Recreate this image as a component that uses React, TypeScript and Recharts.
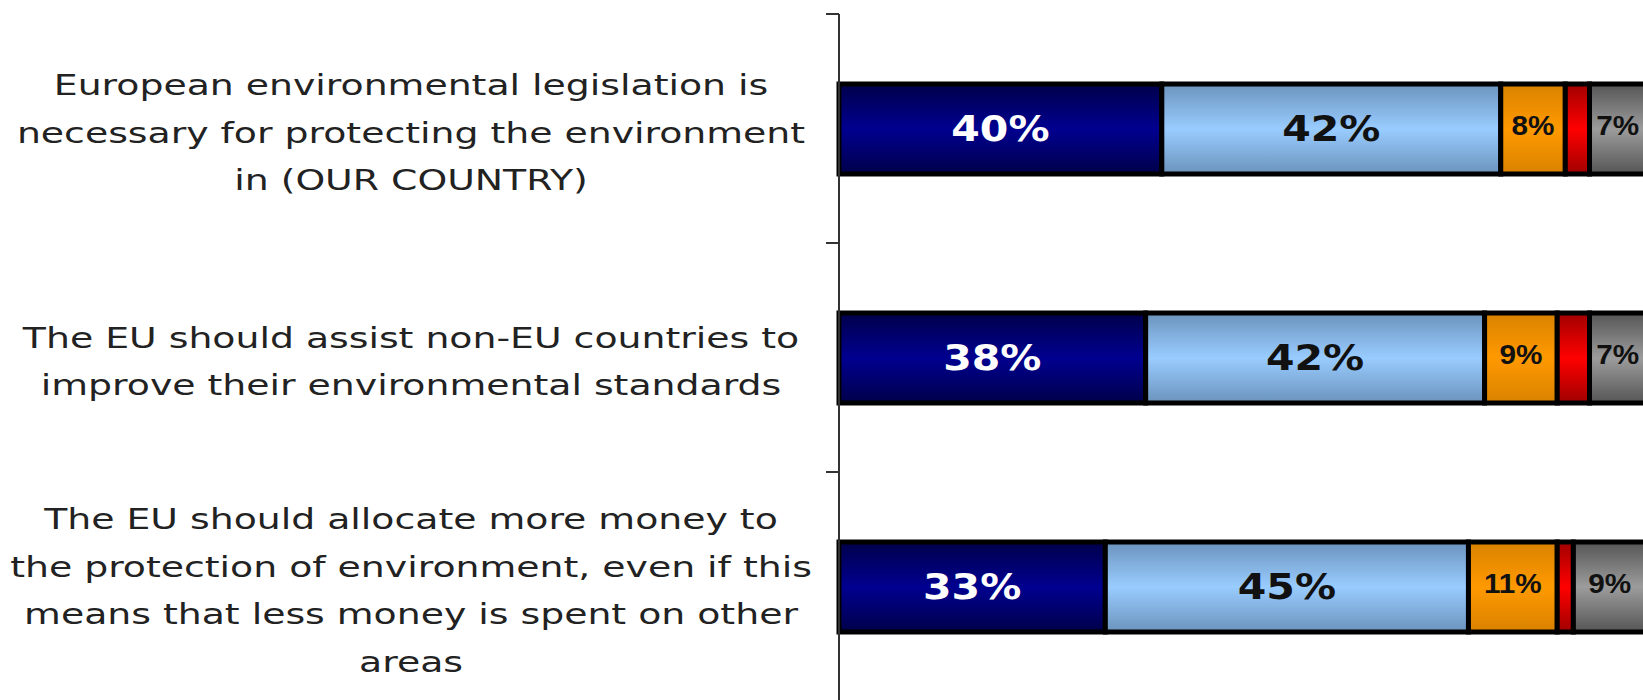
import React from 'react'
import { BarChart, Bar, XAxis, YAxis, LabelList } from 'recharts'

// statements (category keys) and their wrapped lines as printed on the chart
const statements = ['legislation', 'assist', 'allocate']
const statementLines = [
  ['European environmental legislation is', 'necessary for protecting the environment', 'in (OUR COUNTRY)'],
  ['The EU should assist non-EU countries to', 'improve their environmental standards'],
  [
    'The EU should allocate more money to',
    'the protection of environment, even if this',
    'means that less money is spent on other',
    'areas',
  ],
]

// answer shares in %
const totallyAgree = [40, 38, 33]
const tendAgree = [42, 42, 45]
const tendDisagree = [8, 9, 11]
const totallyDisagree = [3, 4, 2]
const dontKnow = [7, 7, 9]

const chartData = statements.map((name, i) => ({
  name,
  totallyAgree: totallyAgree[i],
  tendAgree: tendAgree[i],
  tendDisagree: tendDisagree[i],
  totallyDisagree: totallyDisagree[i],
  dontKnow: dontKnow[i],
}))

// category label plus the tick marks on the band edges (the axis puts ticks at band centres)
function StatementTick({ x, y, payload }: any) {
  const idx = statements.indexOf(payload.value)
  const lines = statementLines[idx] || []
  const half = Number(payload.offset) || 0
  const lineGap = 47.7
  const first = 14 - ((lines.length - 1) / 2) * lineGap
  return (
    <g>
      <line x1={x - 13} x2={x} y1={y - half} y2={y - half} stroke="#333" strokeWidth={2} />
      {idx === statements.length - 1 && (
        <line x1={x - 13} x2={x} y1={y + half} y2={y + half} stroke="#333" strokeWidth={2} />
      )}
      <g transform={`translate(${x - 428},${y}) scale(1.35,1)`}>
        <text textAnchor="middle" fontFamily="DejaVu Sans" fontSize={28} fill="#222">
          {lines.map((line, i) => (
            <tspan key={i} x={0} y={first + i * lineGap}>
              {line}
            </tspan>
          ))}
        </text>
      </g>
    </g>
  )
}

function makeLabel(opts: { color: string; font: string; size: number; weight: string | number; scale: number; dy: number }) {
  return function SegmentLabel(props: any) {
    const { x, y, width, height, value } = props
    if (value == null) return null
    const cx = Number(x) + Number(width) / 2
    const cy = Number(y) + Number(height) / 2
    return (
      <g transform={`translate(${cx},${cy + opts.dy}) scale(${opts.scale},1)`}>
        <text
          x={0}
          y={0}
          textAnchor="middle"
          fontFamily={opts.font}
          fontSize={opts.size}
          fontWeight={opts.weight}
          fill={opts.color}
        >
          {`${value}%`}
        </text>
      </g>
    )
  }
}

const bigWhite = makeLabel({ color: '#fff', font: 'DejaVu Sans', size: 36, weight: 'bold', scale: 1.14, dy: 12 })
const bigBlack = makeLabel({ color: '#111', font: 'DejaVu Sans', size: 36, weight: 'bold', scale: 1.14, dy: 12 })
const smallBlack = makeLabel({ color: '#111', font: 'Liberation Sans', size: 27, weight: 'bold', scale: 1.1, dy: 6 })

export default function App() {
  return (
    <div
      style={{
        position: 'absolute',
        left: 0,
        top: 0,
        width: 1643,
        height: 700,
        overflow: 'hidden',
        background: '#fff',
      }}
    >
      <BarChart
        width={1660}
        height={720}
        data={chartData}
        layout="vertical"
        margin={{ top: 14, right: 14, bottom: 19, left: 0 }}
      >
        <defs>
          <linearGradient id="gDark" x1="0" y1="0" x2="0" y2="1">
            <stop offset="0%" stopColor="#00004a" />
            <stop offset="50%" stopColor="#000090" />
            <stop offset="100%" stopColor="#00004a" />
          </linearGradient>
          <linearGradient id="gLight" x1="0" y1="0" x2="0" y2="1">
            <stop offset="0%" stopColor="#6b93bd" />
            <stop offset="50%" stopColor="#99ccff" />
            <stop offset="100%" stopColor="#6b93bd" />
          </linearGradient>
          <linearGradient id="gOrange" x1="0" y1="0" x2="0" y2="1">
            <stop offset="0%" stopColor="#d98200" />
            <stop offset="50%" stopColor="#ff9900" />
            <stop offset="100%" stopColor="#d98200" />
          </linearGradient>
          <linearGradient id="gRed" x1="0" y1="0" x2="0" y2="1">
            <stop offset="0%" stopColor="#a00000" />
            <stop offset="50%" stopColor="#ff0000" />
            <stop offset="100%" stopColor="#a00000" />
          </linearGradient>
          <linearGradient id="gGray" x1="0" y1="0" x2="0" y2="1">
            <stop offset="0%" stopColor="#555555" />
            <stop offset="50%" stopColor="#9c9c9c" />
            <stop offset="100%" stopColor="#555555" />
          </linearGradient>
        </defs>

        <XAxis type="number" domain={[0, 100]} hide />

        <YAxis
          type="category"
          dataKey="name"
          width={839}
          axisLine={{ stroke: '#333', strokeWidth: 2 }}
          tickLine={false}
          tickSize={0}
          tickMargin={0}
          tick={<StatementTick />}
        />

        <Bar dataKey="totallyAgree" stackId="a" barSize={90} fill="url(#gDark)" stroke="#000" strokeWidth={5} isAnimationActive={false}>
          <LabelList dataKey="totallyAgree" content={bigWhite} />
        </Bar>
        <Bar dataKey="tendAgree" stackId="a" barSize={90} fill="url(#gLight)" stroke="#000" strokeWidth={5} isAnimationActive={false}>
          <LabelList dataKey="tendAgree" content={bigBlack} />
        </Bar>
        <Bar dataKey="tendDisagree" stackId="a" barSize={90} fill="url(#gOrange)" stroke="#000" strokeWidth={5} isAnimationActive={false}>
          <LabelList dataKey="tendDisagree" content={smallBlack} />
        </Bar>
        <Bar dataKey="totallyDisagree" stackId="a" barSize={90} fill="url(#gRed)" stroke="#000" strokeWidth={5} isAnimationActive={false} />
        <Bar dataKey="dontKnow" stackId="a" barSize={90} fill="url(#gGray)" stroke="#000" strokeWidth={5} isAnimationActive={false}>
          <LabelList dataKey="dontKnow" content={smallBlack} />
        </Bar>
      </BarChart>
    </div>
  )
}
